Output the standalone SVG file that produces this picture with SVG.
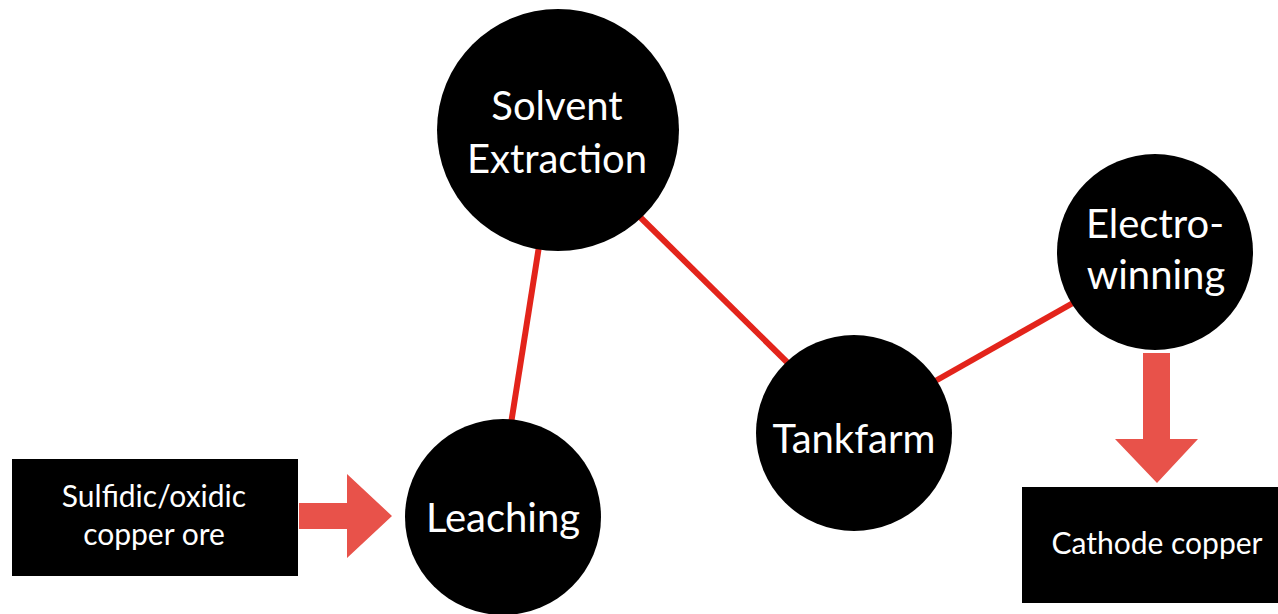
<svg xmlns="http://www.w3.org/2000/svg" width="1278" height="614" viewBox="0 0 1278 614">
<style>
.node{fill:#000}
.lbl{fill:#fff;font-family:Lato,"Open Sans","Liberation Sans",sans-serif;text-anchor:middle}
.big{font-size:40px}
.small{font-size:30px}
.conn{stroke:#e3241b;stroke-width:6;fill:none}
.arrow{fill:#e8524a}
</style>
<rect width="1278" height="614" fill="#fff"/>
<g id="connectors">
<line class="conn" x1="540" y1="240" x2="510" y2="430"/>
<line class="conn" x1="640" y1="217" x2="795" y2="370"/>
<line class="conn" x1="930" y1="384" x2="1080" y2="299"/>
<polygon class="arrow" points="299,503 347,503 347,474 392,516 347,558 347,529 299,529"/>
<polygon class="arrow" points="1143,353 1170,353 1170,439 1198,439 1157,483 1115,439 1143,439"/>
</g>
<g id="solvent-extraction">
<circle class="node" cx="558" cy="130" r="121"/>
<text class="lbl big" x="557" y="120">Solvent</text>
<text class="lbl big" x="557" y="173">Extraction</text>
</g>
<g id="leaching">
<circle class="node" cx="503" cy="517" r="98"/>
<text class="lbl big" x="503" y="532">Leaching</text>
</g>
<g id="tankfarm">
<circle class="node" cx="854" cy="433" r="98"/>
<text class="lbl big" x="854" y="453">Tankfarm</text>
</g>
<g id="electrowinning">
<circle class="node" cx="1155" cy="252" r="98"/>
<text class="lbl big" x="1155" y="238">Electro-</text>
<text class="lbl big" x="1156" y="289">winning</text>
</g>
<g id="ore">
<rect class="node" x="12" y="459" width="286" height="117"/>
<text class="lbl small" x="154" y="507">Sulfidic/oxidic</text>
<text class="lbl small" x="154" y="545">copper ore</text>
</g>
<g id="cathode">
<rect class="node" x="1022" y="487" width="256" height="116"/>
<text class="lbl small" x="1157" y="554">Cathode copper</text>
</g>
</svg>
